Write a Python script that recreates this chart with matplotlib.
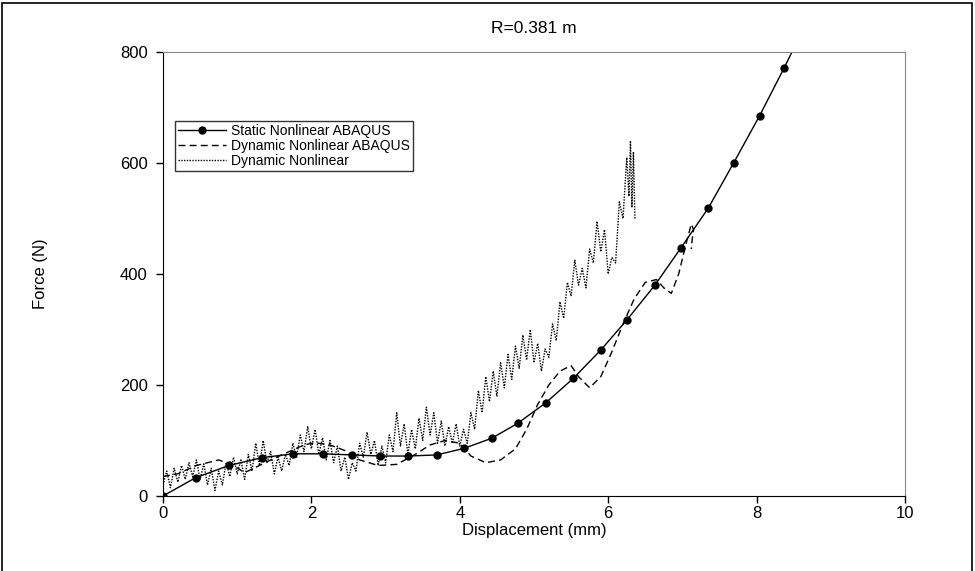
import matplotlib
matplotlib.use("Agg")
import matplotlib.pyplot as plt
from matplotlib.patches import Rectangle

plt.rcParams['font.family'] = ['Liberation Sans', 'DejaVu Sans']

# Static Nonlinear ABAQUS (solid line with dots)
static_x = [0.0, 0.44, 0.89, 1.33, 1.75, 2.16, 2.55, 2.93, 3.30, 3.69, 4.06,
            4.43, 4.78, 5.16, 5.53, 5.90, 6.25, 6.63, 6.98, 7.35, 7.69, 8.04,
            8.37, 8.55]
static_y = [0, 33, 55, 69, 76, 76, 74, 72, 72, 74, 86,
            104, 131, 168, 212, 263, 317, 380, 447, 519, 600, 685,
            771, 820]

# Dynamic Nonlinear ABAQUS (dashed)
dyn_abq_x = [0.0, 0.2, 0.45, 0.75, 0.95, 1.1, 1.3, 1.5, 1.7, 1.9, 2.05, 2.25,
             2.45, 2.65, 2.9, 3.15, 3.4, 3.6, 3.8, 4.0, 4.15, 4.35, 4.55, 4.75,
             4.9, 5.05, 5.2, 5.35, 5.5, 5.6, 5.75, 5.9, 6.05, 6.2, 6.35, 6.5,
             6.65, 6.75, 6.85, 6.95, 7.05, 7.12, 7.15, 7.13, 7.12]
dyn_abq_y = [35, 40, 55, 65, 55, 42, 55, 68, 80, 92, 96, 92,
             82, 65, 55, 57, 75, 92, 100, 95, 72, 60, 65, 85,
             120, 165, 200, 225, 235, 215, 195, 215, 260, 310, 355, 385,
             390, 375, 365, 400, 455, 490, 480, 460, 445]

# Dynamic Nonlinear (dotted, noisy)
dyn_x = [0.00, 0.05, 0.10, 0.15, 0.20, 0.25, 0.30, 0.35, 0.40, 0.45, 0.50,
         0.55, 0.60, 0.65, 0.70, 0.75, 0.80, 0.85, 0.90, 0.95, 1.00, 1.05,
         1.10, 1.15, 1.20, 1.25, 1.30, 1.35, 1.40, 1.45, 1.50, 1.55, 1.60,
         1.65, 1.70, 1.75, 1.80, 1.85, 1.90, 1.95, 2.00, 2.05, 2.10, 2.15,
         2.20, 2.25, 2.30, 2.35, 2.40, 2.45, 2.50, 2.55, 2.60, 2.65, 2.70,
         2.75, 2.80, 2.85, 2.90, 2.95, 3.00, 3.05, 3.10, 3.15, 3.20, 3.25,
         3.30, 3.35, 3.40, 3.45, 3.50, 3.55, 3.60, 3.65, 3.70, 3.75, 3.80,
         3.85, 3.90, 3.95, 4.00, 4.05, 4.10, 4.15, 4.20, 4.25, 4.30, 4.35,
         4.40, 4.45, 4.50, 4.55, 4.60, 4.65, 4.70, 4.75, 4.80, 4.85, 4.90,
         4.95, 5.00, 5.05, 5.10, 5.15, 5.20, 5.25, 5.30, 5.35, 5.40, 5.45,
         5.50, 5.55, 5.60, 5.65, 5.70, 5.75, 5.80, 5.85, 5.90, 5.95, 6.00,
         6.05, 6.10, 6.15, 6.20, 6.25, 6.28, 6.30, 6.32, 6.34, 6.36]
dyn_y = [20, 45, 15, 50, 25, 55, 30, 60, 35, 65, 30,
         58, 20, 50, 10, 45, 20, 60, 35, 70, 40, 65,
         30, 75, 45, 95, 55, 100, 60, 80, 40, 70, 45,
         75, 55, 95, 70, 110, 80, 125, 85, 120, 75, 105,
         65, 100, 60, 90, 45, 70, 30, 60, 45, 95, 70,
         115, 75, 100, 55, 90, 60, 110, 80, 150, 90, 130,
         75, 120, 85, 140, 100, 160, 110, 150, 95, 135, 90,
         125, 95, 130, 90, 120, 95, 150, 120, 190, 150, 215,
         170, 225, 180, 240, 195, 255, 210, 270, 230, 290, 245,
         300, 240, 275, 225, 265, 250, 310, 280, 350, 320, 385,
         360, 425, 380, 410, 375, 445, 420, 495, 440, 480, 400,
         430, 420, 530, 500, 610, 540, 640, 520, 620, 500]

fig = plt.figure(figsize=(9.75, 5.71), dpi=100)
ax = fig.add_axes([163 / 975, 75 / 571, 742 / 975, 444 / 571])

ax.plot(static_x, static_y, color='black', lw=1.0, marker='o', ms=5,
        label='Static Nonlinear ABAQUS')
ax.plot(dyn_abq_x, dyn_abq_y, color='black', lw=1.0, ls=(0, (5, 3)),
        label='Dynamic Nonlinear ABAQUS')
ax.plot(dyn_x, dyn_y, color='black', lw=1.0, ls=(0, (1, 1)),
        label='Dynamic Nonlinear')

ax.set_xlim(0, 10)
ax.set_ylim(0, 800)
ax.set_xticks([0, 2, 4, 6, 8, 10])
ax.set_yticks([0, 200, 400, 600, 800])
ax.tick_params(direction='out', length=5, width=1, labelsize=12)
ax.tick_params(axis='x', pad=2)
ax.tick_params(axis='y', pad=6)
for s in ['top', 'right']:
    ax.spines[s].set_color('#888888')
    ax.spines[s].set_linewidth(0.8)

ax.set_xlabel('Displacement (mm)', fontsize=12)
ax.set_ylabel('Force (N)', fontsize=12)
ax.xaxis.set_label_coords(0.5, -0.06)
ax.yaxis.set_label_coords(-0.155, 0.5)
ax.set_title('R=0.381 m', fontsize=12.5, pad=14)

leg = ax.legend(loc='upper left', bbox_to_anchor=(0.016, 0.845), fontsize=10,
                frameon=True, fancybox=False, handlelength=3.4,
                borderpad=0.25, labelspacing=0.05, handletextpad=0.4,
                borderaxespad=0)
leg.get_frame().set_edgecolor('black')
leg.get_frame().set_linewidth(1.0)

fig.patches.append(Rectangle((2 / 975, -0.1), 970 / 975, 1.1 - 3 / 571,
                             transform=fig.transFigure, fill=False,
                             edgecolor='black', lw=1.2))

fig.savefig('out.png', dpi=100)
